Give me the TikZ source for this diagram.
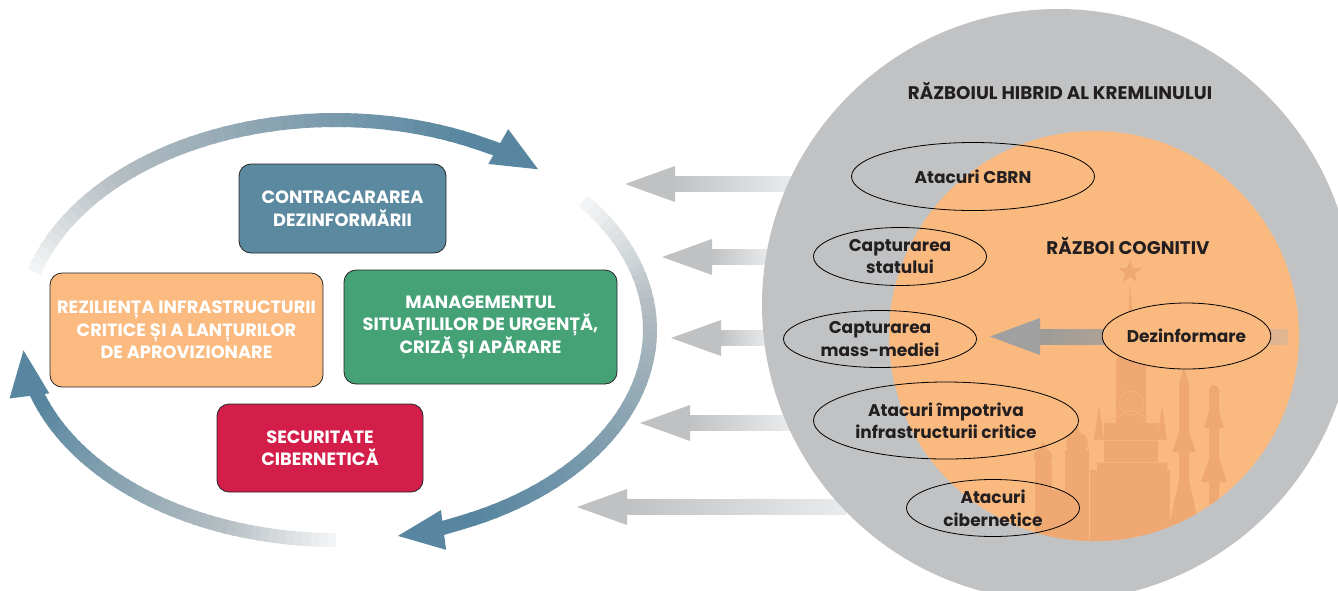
\documentclass[tikz,border=0pt]{standalone}
\usepackage{fontspec}
\setmainfont{Poppins}
\usetikzlibrary{arrows.meta,shapes.geometric,calc}
\definecolor{loopblue}{RGB}{88,134,160}
\definecolor{loopgray}{RGB}{180,189,194}
\definecolor{loopwhite}{RGB}{243,244,245}
\definecolor{circgray}{RGB}{193,194,196}
\definecolor{corange}{RGB}{249,185,127}
\definecolor{silh}{RGB}{239,168,114}
\definecolor{silhline}{RGB}{245,178,124}
\definecolor{arrgray}{RGB}{192,193,195}
\definecolor{arrlight}{RGB}{234,235,236}
\definecolor{bxblue}{RGB}{91,137,160}
\definecolor{bxorange}{RGB}{250,186,128}
\definecolor{bxgreen}{RGB}{69,161,118}
\definecolor{bxred}{RGB}{210,30,72}
\definecolor{txtdark}{RGB}{35,31,32}
\definecolor{dzgray}{RGB}{160,160,160}
\definecolor{dzshaftl}{RGB}{156,155,152}
\definecolor{dzshaftr}{RGB}{228,182,146}
\tikzset{
  boxst/.style={draw=black!85, line width=0.8pt, rounded corners=12pt, text=white,
    font=\bfseries\fontsize{17.8}{22.5}\selectfont, align=center, inner sep=0pt},
  ellst/.style={ellipse, draw=black, line width=0.8pt, inner sep=0pt, text=txtdark,
    font=\bfseries\fontsize{17}{22.5}\selectfont, align=center},
  titlest/.style={text=txtdark, font=\bfseries\fontsize{18.3}{21}\selectfont, inner sep=0pt},
  loopline/.style={line width=14pt},
}
\newcommand\grayarr[4]{%
  \coordinate (#1t) at (#2,#3);
  \coordinate (#1e) at (#4,#3);
  \shade[left color=arrgray, right color=arrlight] ($(#1t)+(48,-7.5)$) rectangle ($(#1e)+(0,7.5)$);
  \fill[arrgray] (#1t) -- ($(#1t)+(50,-18)$) -- ($(#1t)+(50,18)$) -- cycle;
}
\newcommand\looparc[3]{%
  \pgfmathsetmacro\lpA{#2}%
  \pgfmathsetmacro\lpB{#3-15}%
  \foreach \i in {0,...,44}{%
    \pgfmathsetmacro\ta{\lpA+(\lpB-\lpA)*\i/45}%
    \pgfmathsetmacro\tb{\lpA+(\lpB-\lpA)*(\i+1)/45+0.5}%
    \pgfmathsetmacro\pa{min(\i/44/0.3,1)*100}%
    \pgfmathsetmacro\pb{max((\i/44-0.3)/0.7,0)*100}%
    \colorlet{lpc}{loopgray!\pa!loopwhite}%
    \colorlet{lpd}{loopblue!\pb!lpc}%
    \draw[loopline, lpd] ($(lc)+(\ta:314 and 210)$) arc[start angle=\ta, end angle=\tb, x radius=314, y radius=210];
  }
  \draw[loopline, loopblue, -{Triangle[length=48pt,width=36pt]}] ($(lc)+(\lpB:314 and 210)$) arc[start angle=\lpB, end angle=#3, x radius=314, y radius=210] coordinate (#1);
}
\begin{document}
\begin{tikzpicture}[x=1pt,y=-1pt]
\useasboundingbox (0,0) rectangle (1338,590);
\clip (0,0) rectangle (1338,590);

% gray arrows from the hybrid-war circle towards the loop
\grayarr{ga}{625}{184}{792}
\grayarr{gb}{662}{257}{770}
\grayarr{gc}{671}{338}{768}
\grayarr{gd}{640}{423}{790}
\grayarr{ge}{577}{507}{846}

% circles
\node[circle, fill=circgray, minimum size=592pt, inner sep=0pt] (hyb) at (1058,305) {};
\node[circle, fill=corange, minimum size=410pt, inner sep=0pt] (cog) at (1094,336) {};

% Kremlin silhouette
\begin{scope}
  \clip (1094,336) circle[radius=205];
  % tower
  \fill[silh] (1130,283) -- (1135,340) -- (1143,352) -- (1146,362) -- (1146,423) -- (1158,423) -- (1158,462)
     -- (1167,462) -- (1167,560) -- (1097,560) -- (1097,462) -- (1104,462) -- (1104,423) -- (1116,423)
     -- (1116,362) -- (1119,352) -- (1127,340) -- cycle;
  \node[star, star points=5, star point ratio=2.4, fill=silh, minimum size=24pt, inner sep=0pt] (kstar) at (1130,272) {};
  \draw[silhline, line width=0.8pt] (1131,403) circle[radius=12];
  \draw[silhline, line width=0.8pt] (1131,403) -- (1131,394) (1131,403) -- (1137,406);
  \draw[silhline, line width=0.8pt] (1104,423) -- (1131,410) -- (1158,423);
  \draw[silhline, line width=0.8pt] (1097,462) -- (1167,462) (1104,440) -- (1158,440);
  \foreach \xx in {1110,1120,1130,1140,1150}{\fill[silhline] (\xx,490) rectangle (\xx+4,505);}
  \draw[silhline, line width=0.8pt] (1122,545) -- (1122,530) arc[start angle=180, end angle=0, radius=9] -- (1140,545);
  % side spires
  \fill[silh] (1099,405) -- (1104,440) -- (1094,440) -- cycle;
  \fill[silh] (1162,405) -- (1167,440) -- (1157,440) -- cycle;
  \fill[silh] (1090,470) rectangle (1170,560);
  % domes
  \fill[silh] (1077,425) -- (1080,433) -- (1070,433) -- cycle;
  \fill[silh] (1077,443) circle[radius=11];
  \fill[silh] (1065,450) rectangle (1089,560);
  \fill[silh] (1043,441) -- (1046,449) -- (1040,449) -- cycle;
  \fill[silh] (1043,457) circle[radius=9];
  \fill[silh] (1035,463) rectangle (1052,560);
  \fill[silh] (1052,490) rectangle (1065,560);
  % missile 1
  \fill[silh] (1184,366) -- (1189,385) -- (1189,480) -- (1202,540) -- (1202,560) -- (1166,560) -- (1166,540) -- (1179,480) -- (1179,385) -- cycle;
  \fill[silh] (1179,432) -- (1172,452) -- (1196,452) -- (1189,432) -- cycle;
  % missile 2
  \fill[silh] (1209,390) arc[start angle=180, end angle=360, radius=5] -- (1219,560) -- (1209,560) -- cycle;
  \fill[silh] (1209,412) -- (1204,428) -- (1224,428) -- (1219,412) -- cycle;
  \fill[silh] (1209,458) -- (1201,482) -- (1227,482) -- (1219,458) -- cycle;
\end{scope}

% disinformation arrow
\coordinate (dzt) at (990,336.5);
\coordinate (dze) at (1288,336.5);
\shade[left color=dzshaftl, right color=dzshaftr] ($(dzt)+(48,-7.5)$) rectangle ($(dze)+(0,7.5)$);
\fill[dzgray] (dzt) -- ($(dzt)+(50,-18.5)$) -- ($(dzt)+(50,18.5)$) -- cycle;

% ellipses
\node[ellst, minimum width=243pt, minimum height=68pt] (e1) at (973,176.5) {Atacuri CBRN};
\node[ellst, minimum width=173pt, minimum height=58pt] (e2) at (900,256.5) {Capturarea\\statului};
\node[ellst, minimum width=193pt, minimum height=57pt] (e3) at (880,339) {Capturarea\\mass-mediei};
\node[ellst, minimum width=265pt, minimum height=77pt] (e4) at (946,420.5) {Atacuri împotriva\\infrastructurii critice};
\node[ellst, minimum width=173pt, minimum height=57pt] (e5) at (993,508) {Atacuri\\cibernetice};
\node[ellst, fill=corange, minimum width=162pt, minimum height=66pt] (e6) at (1186.5,336) {Dezinformare};

% titles
\node[titlest] (t1) at (1060,91) {RĂZBOIUL HIBRID AL KREMLINULUI};
\node[titlest] (t2) at (1128,246) {RĂZBOI COGNITIV};

% loop
\coordinate (lc) at (336,330);
\looparc{la}{-164}{-49.5}
\looparc{lb}{-38}{79}
\looparc{lcc}{90}{175}

% boxes
\node[boxst, fill=bxblue, minimum width=207pt, minimum height=89pt] (b1) at (342.5,208.5) {CONTRACARAREA\\DEZINFORMĂRII};
\node[boxst, fill=bxorange, minimum width=273pt, minimum height=114pt] (b2) at (186.5,330) {REZILIENȚA INFRASTRUCTURII\\CRITICE ȘI A LANȚURILOR\\DE APROVIZIONARE};
\node[boxst, fill=bxgreen, minimum width=273pt, minimum height=114pt] (b3) at (480.5,327) {MANAGEMENTUL\\SITUAȚILILOR DE URGENȚĂ,\\CRIZĂ ȘI APĂRARE};
\node[boxst, fill=bxred, minimum width=206pt, minimum height=88pt] (b4) at (320,448) {SECURITATE\\CIBERNETICĂ};
\end{tikzpicture}
\end{document}
